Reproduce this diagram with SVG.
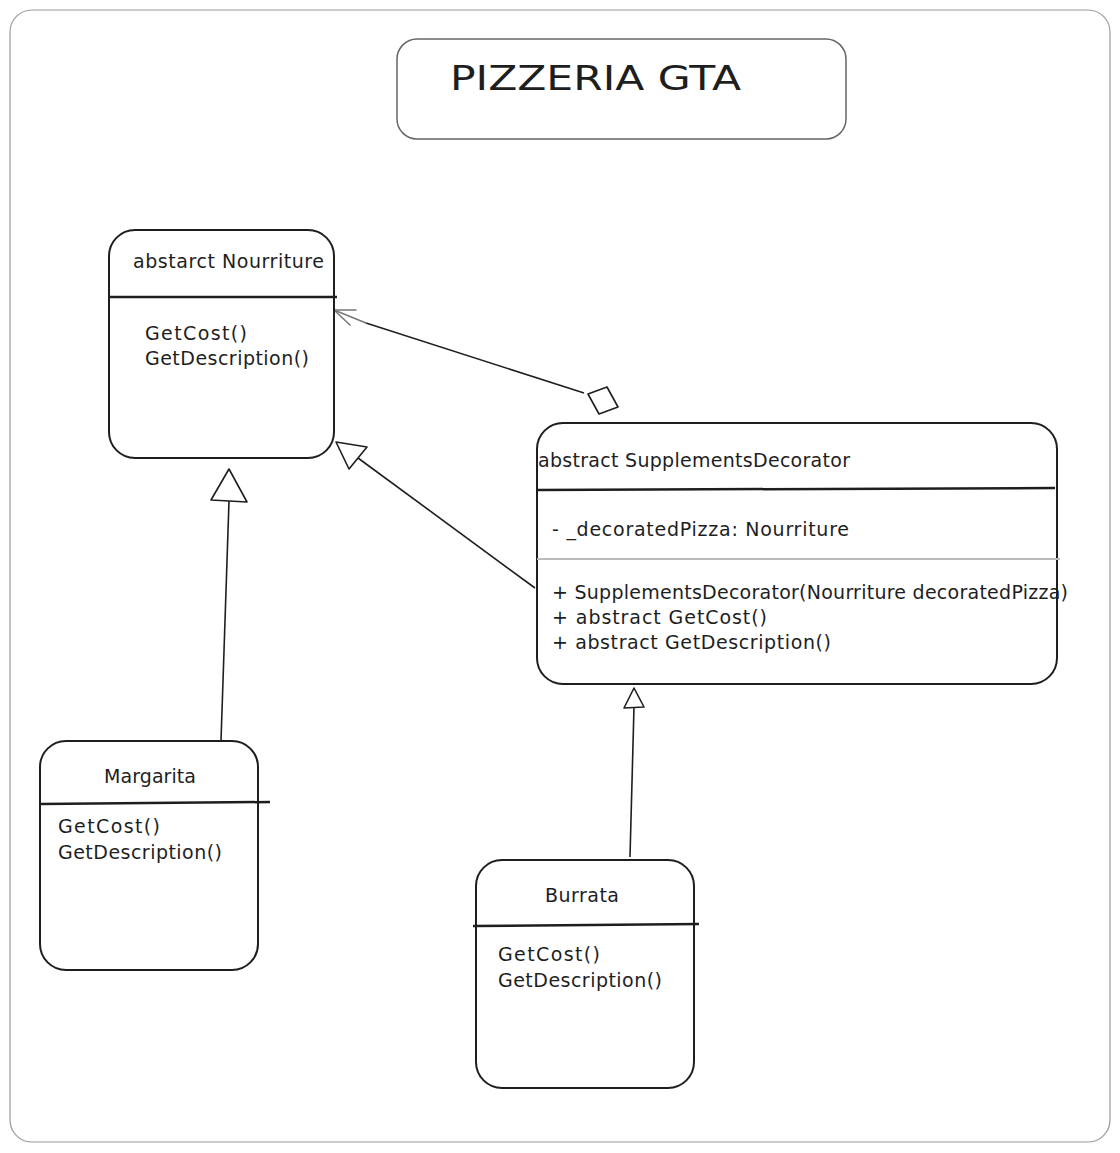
<svg xmlns="http://www.w3.org/2000/svg" width="1120" height="1153" viewBox="0 0 1120 1153">
  <style>
    .frame { fill: #ffffff; stroke: #9a9a9a; stroke-width: 1.2; }
    .box { fill: #ffffff; stroke: #1e1e1e; stroke-width: 2; }
    .titlebox { fill: #ffffff; stroke: #666666; stroke-width: 1.5; }
    .div { stroke: #1e1e1e; stroke-width: 2.5; fill: none; }
    .div2 { stroke: #bbbbbb; stroke-width: 2; fill: none; }
    .txt { font-family: "DejaVu Sans", "Liberation Sans", sans-serif; font-size: 19px; fill: #1e1e1e; }
    .ttl { font-family: "DejaVu Sans", "Liberation Sans", sans-serif; font-size: 34px; fill: #1e1e1e; }
    .edge { stroke: #1e1e1e; stroke-width: 1.6; fill: none; }
    .head { stroke: #1e1e1e; stroke-width: 1.6; fill: #ffffff; stroke-linejoin: round; }
    .open { stroke: #777777; stroke-width: 1.5; fill: none; stroke-linecap: round; }
  </style>
  <rect class="frame" x="10" y="10" width="1100" height="1132" rx="22"/>

  <g id="title">
    <rect class="titlebox" x="397" y="39" width="449" height="100" rx="20"/>
    <text class="ttl" x="450" y="90" textLength="291" lengthAdjust="spacingAndGlyphs">PIZZERIA GTA</text>
  </g>

  <g id="connectors">
    <!-- Margarita to Nourriture (inheritance) -->
    <path class="edge" d="M221 741 L229 501"/>
    <path class="head" d="M229 469 L247 502 L211 500 Z"/>
    <!-- SupplementsDecorator to Nourriture (inheritance) -->
    <path class="edge" d="M535 588 L358 458"/>
    <path class="head" d="M336 442 L367 447 L349 469 Z"/>
    <!-- Aggregation SupplementsDecorator -> Nourriture -->
    <path class="edge" d="M584 393 L366 323"/>
    <path class="open" d="M366 323 L334 310"/>
    <path class="open" d="M356 310 L334 310 L350 325"/>
    <path class="head" d="M588 394 L607 387 L618 407 L599 414 Z"/>
    <!-- Burrata to SupplementsDecorator (inheritance) -->
    <path class="edge" d="M630 857 L634 707"/>
    <path class="head" d="M634 688 L644 707 L624 708 Z"/>
  </g>

  <g id="nourriture">
    <rect class="box" x="109" y="230" width="225" height="228" rx="26"/>
    <path class="div" d="M109 297 L337 297"/>
    <text class="txt" x="133" y="268" textLength="191">abstarct Nourriture</text>
    <text class="txt" x="145" y="340" textLength="102">GetCost()</text>
    <text class="txt" x="145" y="365" textLength="164">GetDescription()</text>
  </g>

  <g id="supplementsdecorator">
    <rect class="box" x="537" y="423" width="520" height="261" rx="26"/>
    <path class="div" d="M537 490 L1055 488"/>
    <path class="div2" d="M537 559 L1060 559"/>
    <text class="txt" x="538" y="467" textLength="312">abstract SupplementsDecorator</text>
    <text class="txt" x="552" y="536" textLength="297">- _decoratedPizza: Nourriture</text>
    <text class="txt" x="552" y="599" textLength="516">+ SupplementsDecorator(Nourriture decoratedPizza)</text>
    <text class="txt" x="552" y="624" textLength="215">+ abstract GetCost()</text>
    <text class="txt" x="552" y="649" textLength="279">+ abstract GetDescription()</text>
  </g>

  <g id="margarita">
    <rect class="box" x="40" y="741" width="218" height="229" rx="26"/>
    <path class="div" d="M40 804 L270 802"/>
    <text class="txt" x="104" y="783" textLength="92">Margarita</text>
    <text class="txt" x="58" y="833" textLength="102">GetCost()</text>
    <text class="txt" x="58" y="859" textLength="164">GetDescription()</text>
  </g>

  <g id="burrata">
    <rect class="box" x="476" y="860" width="218" height="228" rx="26"/>
    <path class="div" d="M473 926 L699 924"/>
    <text class="txt" x="545" y="902" textLength="74">Burrata</text>
    <text class="txt" x="498" y="961" textLength="102">GetCost()</text>
    <text class="txt" x="498" y="987" textLength="164">GetDescription()</text>
  </g>
</svg>
